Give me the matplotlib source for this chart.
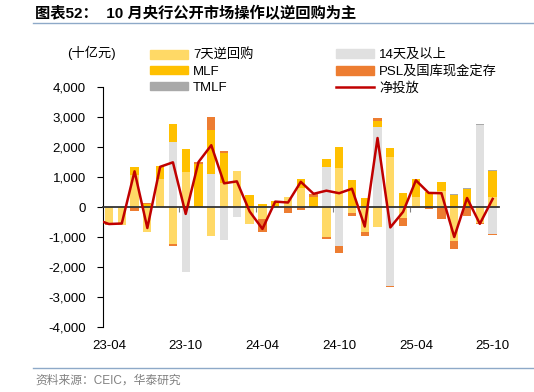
import numpy as np
import matplotlib

matplotlib.use("Agg")
import matplotlib.pyplot as plt
from matplotlib.lines import Line2D
from matplotlib.patches import Patch

plt.rcParams["font.family"] = ["Liberation Sans", "Noto Sans CJK SC"]

# 23-04 .. 25-10, 十亿元
months = [
    "23-04", "23-05", "23-06", "23-07", "23-08", "23-09", "23-10", "23-11", "23-12",
    "24-01", "24-02", "24-03", "24-04", "24-05", "24-06", "24-07", "24-08", "24-09",
    "24-10", "24-11", "24-12", "25-01", "25-02", "25-03", "25-04", "25-05", "25-06",
    "25-07", "25-08", "25-09", "25-10",
]
rr_7d = [-560, -590, 1080, -845, 944, -1233, 1156, 0, -956,
         800, 1211, -578, -411, 0, 322, 633, 0, -1011,
         1300, -200, -844, -667, 1678, -367, 322, 0, 544,
         -1144, 0, -533, 322]
rr_14d = [0, 0, 0, 0, 0, 2167, -2156, 0, 1100,
          -1089, -344, 0, 0, 0, 0, 0, 0, 1333,
          -1311, 0, 0, 2667, -2644, 0, 0, 0, 0,
          0, 0, 2744, -890]
mlf = [0, 0, 255, 110, 433, 611, 778, 1450, 1470,
       1000, 0, 400, 100, 189, 0, 300, 340, 278,
       700, 911, 300, 189, 289, 467, 611, 500, 300,
       400, 600, 0, 880]
psl = [-30, -20, -145, 40, 0, -55, 0, 45, 422,
       78, 0, 0, -422, 0, -190, -89, 90, -55,
       -222, -89, -111, 122, -10, -256, -44, -50, -400,
       -256, -300, -44, -55]
tmlf = [0, 0, 0, 0, 0, 0, 0, 0, 0,
        0, 0, 0, 0, 0, 0, 0, 0, 0,
        0, 0, 0, 0, 0, 0, 0, 0, 0,
        33, 40, 40, 30]
net = [-567, -550, 1190, -700, 1340, 1490, -230, 1500, 2060,
       790, 855, -150, -730, 180, 150, 840, 440, 545,
       460, 610, -650, 2300, -680, -160, 890, 470, 460,
       -1000, 300, -560, 270]
net_prior = -410  # 23-03, only the stub left of the axis shows

series = [
    ("7天逆回购", rr_7d, "#FFD966"),
    ("14天及以上", rr_14d, "#E0E0E0"),
    ("MLF", mlf, "#FFC000"),
    ("PSL及国库现金定存", psl, "#ED7D31"),
    ("TMLF", tmlf, "#A9A9A9"),
]

fig = plt.figure(figsize=(5.34, 3.92), dpi=100)
ax = fig.add_axes([0.1921, 0.1658, 0.7424, 0.6122])

x = np.arange(len(months))
pos = np.zeros(len(months))
neg = np.zeros(len(months))
for name, vals, color in series:
    v = np.array(vals, dtype=float)
    up = np.where(v > 0, v, 0)
    dn = np.where(v < 0, v, 0)
    ax.bar(x, up, bottom=pos, width=0.65, color=color, linewidth=0, zorder=2)
    ax.bar(x, dn, bottom=neg, width=0.65, color=color, linewidth=0, zorder=2)
    pos += up
    neg += dn

ax.plot(np.arange(-1, len(months)), [net_prior] + net, color="#C00000", lw=1.8, zorder=4)

ax.set_xlim(-0.5, len(months) - 0.5)
ax.set_ylim(-4000, 4000)
ax.set_yticks(np.arange(-4000, 4001, 1000))
ax.set_yticklabels([f"{v:,}" for v in range(-4000, 4001, 1000)], fontsize=9.5)
ax.tick_params(axis="y", length=4, width=0.8, pad=8)

for s in ["top", "right"]:
    ax.spines[s].set_visible(False)
ax.spines["left"].set_linewidth(0.8)
ax.spines["bottom"].set_position(("data", 0))
ax.spines["bottom"].set_color("#333333")
ax.spines["bottom"].set_linewidth(1.3)
ax.spines["bottom"].set_zorder(3)
ax.set_xticks([5.5, 11.5, 17.5, 23.5])
ax.set_xticklabels([])
ax.tick_params(axis="x", length=3.5, width=0.8, color="#808080")

sec = ax.secondary_xaxis("bottom")
sec.set_xticks(x[::6])
sec.set_xticklabels(months[::6], fontsize=9.5)
sec.tick_params(length=0, pad=9)
sec.spines["bottom"].set_visible(False)

h1 = [Patch(color=series[i][2], label=series[i][0]) for i in (0, 2, 4)]
h2 = [Patch(color=series[i][2], label=series[i][0]) for i in (1, 3)]
h2.append(Line2D([], [], color="#C00000", lw=1.8, label="净投放"))
for hs, left in ((h1, 150), (h2, 336)):
    fig.legend(handles=hs, loc="upper left", bbox_to_anchor=(left / 534, 1 - 49 / 392),
               frameon=False, fontsize=9.5, handlelength=2.9, handleheight=0.6,
               handletextpad=0.35, labelspacing=0.3, borderpad=0, borderaxespad=0)

fig.text(67 / 534, 1 - 53 / 392, "(十亿元)", fontsize=9.5, va="center")
fig.text(35 / 534, 1 - 14 / 392, "图表52：  10 月央行公开市场操作以逆回购为主",
         fontsize=11, fontweight="bold", va="center")
fig.add_artist(Line2D([33 / 534, 1], [1 - 23 / 392] * 2, color="#8EA9C8", lw=1))
fig.add_artist(Line2D([33 / 534, 1], [1 - 368 / 392] * 2, color="#8EA9C8", lw=1))
fig.text(35 / 534, 1 - 381 / 392, "资料来源：CEIC，华泰研究", fontsize=8.5,
         color="#808080", va="center")

fig.savefig("out.png", dpi=100)
